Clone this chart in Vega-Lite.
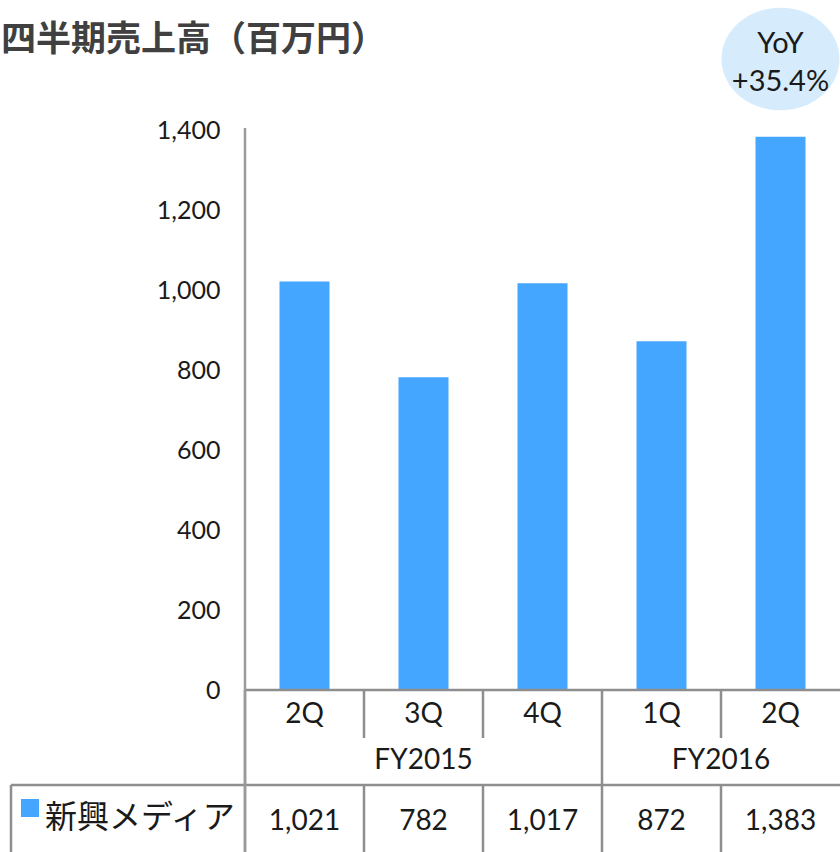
{
  "$schema": "https://vega.github.io/schema/vega-lite/v6.json",
  "width": 840,
  "height": 852,
  "autosize": {"type": "none"},
  "padding": 0,
  "background": "white",
  "config": {
    "view": {"stroke": null},
    "text": {"font": "Lato", "color": "#1a1a1a"}
  },
  "data": {
    "values": [
      {"fy": "FY2015", "q": "2Q", "idx": 0, "sales": 1021, "segment": "新興メディア"},
      {"fy": "FY2015", "q": "3Q", "idx": 1, "sales": 782, "segment": "新興メディア"},
      {"fy": "FY2015", "q": "4Q", "idx": 2, "sales": 1017, "segment": "新興メディア"},
      {"fy": "FY2016", "q": "1Q", "idx": 3, "sales": 872, "segment": "新興メディア"},
      {"fy": "FY2016", "q": "2Q", "idx": 4, "sales": 1383, "segment": "新興メディア"}
    ]
  },
  "layer": [
    {
      "mark": {"type": "bar", "width": 50},
      "encoding": {
        "x": {"field": "idx", "type": "quantitative", "axis": null,
              "scale": {"domain": [-2.5588, 4.5], "nice": false, "zero": false, "padding": 0}},
        "y": {"field": "sales", "type": "quantitative",
              "scale": {"domain": [-405, 1725], "nice": false, "zero": false, "padding": 0},
              "axis": {"orient": "left", "offset": -245, "domain": false, "ticks": false, "grid": false,
                       "values": [0, 200, 400, 600, 800, 1000, 1200, 1400], "format": ",.0f",
                       "labelFont": "Lato", "labelFontSize": 25, "labelColor": "#1a1a1a",
                       "labelPadding": 25, "title": null}},
        "y2": {"datum": 0},
        "color": {"field": "segment", "type": "nominal", "legend": null,
                  "scale": {"range": ["#44a6ff"]}}
      }
    },
    {
      "mark": {"type": "rule", "stroke": "#8e8e8e", "strokeWidth": 2.5, "xOffset": -59.5},
      "encoding": {
        "x": {"field": "idx", "type": "quantitative"},
        "y": {"datum": 0},
        "y2": {"datum": -120}
      }
    },
    {
      "mark": {"type": "rule", "stroke": "#8e8e8e", "strokeWidth": 2.5, "xOffset": -59.5},
      "encoding": {
        "x": {"field": "idx", "type": "quantitative"},
        "y": {"datum": -237.5},
        "y2": {"datum": -405}
      }
    },
    {
      "transform": [{"aggregate": [{"op": "min", "field": "idx", "as": "start"}], "groupby": ["fy"]}],
      "mark": {"type": "rule", "stroke": "#8e8e8e", "strokeWidth": 2.5, "xOffset": -59.5},
      "encoding": {
        "x": {"field": "start", "type": "quantitative"},
        "y": {"datum": -120},
        "y2": {"datum": -237.5}
      }
    },
    {
      "data": {"values": [{}]},
      "mark": {"type": "rule", "stroke": "#8e8e8e", "strokeWidth": 2.5},
      "encoding": {
        "x": {"datum": -0.5},
        "x2": {"datum": 4.5},
        "y": {"datum": 0}
      }
    },
    {
      "data": {"values": [{}]},
      "mark": {"type": "rule", "stroke": "#8e8e8e", "strokeWidth": 2.5},
      "encoding": {
        "x": {"datum": -2.4664},
        "x2": {"datum": 4.5},
        "y": {"datum": -237.5}
      }
    },
    {
      "data": {"values": [{}]},
      "mark": {"type": "rule", "stroke": "#8e8e8e", "strokeWidth": 2.5},
      "encoding": {
        "x": {"datum": -2.4664},
        "y": {"datum": -237.5},
        "y2": {"datum": -405}
      }
    },
    {
      "data": {"values": [{}]},
      "mark": {"type": "rule", "stroke": "#9a9a9a", "strokeWidth": 2.5},
      "encoding": {
        "x": {"datum": -0.5},
        "y": {"datum": 1405},
        "y2": {"datum": -405}
      }
    },
    {
      "mark": {"type": "text", "fontSize": 28, "baseline": "middle", "align": "center"},
      "encoding": {
        "x": {"field": "idx", "type": "quantitative"},
        "y": {"datum": -62.5},
        "text": {"field": "q"}
      }
    },
    {
      "mark": {"type": "text", "fontSize": 28, "baseline": "middle", "align": "center"},
      "encoding": {
        "x": {"field": "idx", "type": "quantitative"},
        "y": {"datum": -328.75},
        "text": {"field": "sales", "type": "quantitative", "format": ","}
      }
    },
    {
      "transform": [{"aggregate": [{"op": "mean", "field": "idx", "as": "center"}], "groupby": ["fy"]}],
      "mark": {"type": "text", "fontSize": 28, "baseline": "middle", "align": "center"},
      "encoding": {
        "x": {"field": "center", "type": "quantitative"},
        "y": {"datum": -177.5},
        "text": {"field": "fy"}
      }
    },
    {
      "transform": [{"aggregate": [{"op": "count", "as": "n"}], "groupby": ["segment"]}],
      "mark": {"type": "point", "shape": "square", "filled": true, "size": 324, "opacity": 1},
      "encoding": {
        "x": {"datum": -2.3067},
        "y": {"datum": -295},
        "color": {"field": "segment", "type": "nominal", "legend": null}
      }
    },
    {
      "transform": [{"aggregate": [{"op": "count", "as": "n"}], "groupby": ["segment"]}],
      "mark": {"type": "text", "font": "Noto Sans CJK JP", "fontSize": 32, "baseline": "middle", "align": "left"},
      "encoding": {
        "x": {"datum": -2.1807},
        "y": {"datum": -320},
        "text": {"field": "segment"}
      }
    },
    {
      "data": {"values": [{}]},
      "mark": {"type": "text", "font": "Noto Sans CJK JP", "fontWeight": "bold", "fontSize": 35,
               "color": "#404040", "baseline": "middle", "align": "left"},
      "encoding": {
        "x": {"datum": -2.5504},
        "y": {"datum": 1625},
        "text": {"value": "四半期売上高（百万円）"}
      }
    },
    {
      "data": {"values": [{}]},
      "mark": {"type": "point", "filled": true, "opacity": 1, "color": "#d6ecfc",
               "shape": "M -1,0 A 1,0.87 0 1,1 1,0 A 1,0.87 0 1,1 -1,0 Z", "size": 13924},
      "encoding": {
        "x": {"datum": 4},
        "y": {"datum": 1577.5}
      }
    },
    {
      "data": {"values": [{}]},
      "mark": {"type": "text", "fontSize": 29, "baseline": "middle", "align": "center"},
      "encoding": {
        "x": {"datum": 4},
        "y": {"datum": 1616},
        "text": {"value": "YoY"}
      }
    },
    {
      "data": {"values": [{}]},
      "mark": {"type": "text", "fontSize": 29, "baseline": "middle", "align": "center"},
      "encoding": {
        "x": {"datum": 4},
        "y": {"datum": 1521},
        "text": {"value": "+35.4%"}
      }
    }
  ]
}
